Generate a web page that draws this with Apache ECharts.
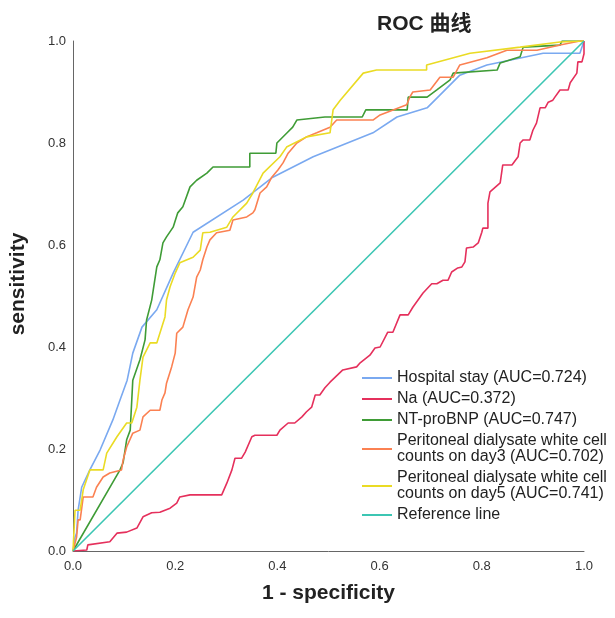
<!DOCTYPE html>
<html>
<head>
<meta charset="utf-8">
<title>ROC 曲线</title>
<script src="https://cdn.jsdelivr.net/npm/echarts@6/dist/echarts.min.js"></script>
<style>
  html, body { margin: 0; padding: 0; background: #fff; }
  #chart { width: 615px; height: 618px; }
</style>
</head>
<body>
<div id="chart"></div>
<script>
// ROC points, [1 - specificity, sensitivity]
const hospitalStay = [[0,0],[0.004,0.027],[0.007,0.035],[0.01,0.08],[0.017,0.125],[0.033,0.159],[0.053,0.198],[0.078,0.257],[0.092,0.296],[0.106,0.335],[0.117,0.388],[0.135,0.439],[0.164,0.473],[0.196,0.545],[0.235,0.625],[0.333,0.688],[0.391,0.733],[0.47,0.773],[0.587,0.82],[0.634,0.851],[0.693,0.869],[0.718,0.894],[0.757,0.933],[0.81,0.953],[0.92,0.976],[0.992,0.976],[1,1]]
const sodium = [[0,0],[0.027,0.002],[0.029,0.012],[0.072,0.018],[0.086,0.035],[0.105,0.037],[0.125,0.045],[0.137,0.067],[0.154,0.075],[0.17,0.076],[0.19,0.084],[0.203,0.094],[0.209,0.106],[0.229,0.11],[0.291,0.11],[0.301,0.133],[0.311,0.159],[0.317,0.182],[0.33,0.182],[0.337,0.194],[0.35,0.224],[0.356,0.227],[0.399,0.227],[0.405,0.237],[0.421,0.251],[0.434,0.251],[0.448,0.263],[0.457,0.273],[0.467,0.282],[0.474,0.306],[0.483,0.306],[0.493,0.32],[0.503,0.331],[0.528,0.355],[0.555,0.361],[0.562,0.369],[0.581,0.384],[0.591,0.398],[0.601,0.4],[0.616,0.429],[0.626,0.429],[0.64,0.463],[0.656,0.463],[0.665,0.478],[0.685,0.506],[0.702,0.524],[0.712,0.524],[0.724,0.531],[0.734,0.531],[0.741,0.547],[0.753,0.555],[0.761,0.557],[0.767,0.567],[0.77,0.594],[0.783,0.596],[0.793,0.604],[0.8,0.625],[0.802,0.633],[0.812,0.633],[0.812,0.682],[0.816,0.704],[0.836,0.722],[0.841,0.757],[0.859,0.757],[0.871,0.773],[0.875,0.8],[0.881,0.806],[0.894,0.806],[0.9,0.825],[0.907,0.839],[0.914,0.869],[0.924,0.869],[0.93,0.88],[0.939,0.884],[0.943,0.89],[0.953,0.904],[0.969,0.904],[0.973,0.918],[0.986,0.937],[0.988,0.959],[0.996,0.959],[1,0.975],[1,1]]
const ntProBNP = [[0,0],[0.092,0.159],[0.098,0.173],[0.105,0.218],[0.112,0.237],[0.117,0.335],[0.131,0.375],[0.141,0.414],[0.144,0.453],[0.154,0.492],[0.164,0.557],[0.17,0.571],[0.176,0.604],[0.183,0.616],[0.196,0.635],[0.205,0.663],[0.215,0.675],[0.229,0.714],[0.242,0.727],[0.262,0.741],[0.274,0.753],[0.346,0.753],[0.346,0.78],[0.397,0.78],[0.399,0.8],[0.419,0.82],[0.43,0.831],[0.438,0.845],[0.493,0.851],[0.566,0.851],[0.573,0.865],[0.654,0.865],[0.656,0.89],[0.693,0.89],[0.712,0.904],[0.738,0.924],[0.744,0.937],[0.83,0.943],[0.836,0.957],[0.875,0.969],[0.881,0.988],[0.953,0.992],[0.957,1],[1,1]]
const wbcDay3 = [[0,0],[0.007,0.027],[0.01,0.061],[0.014,0.061],[0.02,0.106],[0.039,0.106],[0.046,0.125],[0.059,0.145],[0.072,0.153],[0.095,0.159],[0.098,0.178],[0.105,0.204],[0.117,0.231],[0.131,0.237],[0.137,0.263],[0.151,0.276],[0.17,0.276],[0.174,0.296],[0.18,0.31],[0.183,0.329],[0.193,0.361],[0.2,0.388],[0.203,0.427],[0.215,0.439],[0.225,0.473],[0.235,0.498],[0.242,0.537],[0.249,0.551],[0.254,0.571],[0.262,0.596],[0.268,0.61],[0.281,0.624],[0.307,0.629],[0.313,0.649],[0.34,0.655],[0.352,0.663],[0.356,0.669],[0.366,0.702],[0.379,0.714],[0.389,0.733],[0.401,0.747],[0.411,0.761],[0.421,0.78],[0.438,0.8],[0.457,0.812],[0.477,0.82],[0.503,0.831],[0.516,0.845],[0.587,0.845],[0.601,0.855],[0.653,0.875],[0.659,0.89],[0.665,0.9],[0.699,0.904],[0.718,0.929],[0.744,0.929],[0.757,0.953],[0.81,0.967],[0.849,0.982],[0.908,0.982],[0.953,0.992],[0.992,1],[1,1]]
const wbcDay5 = [[0,0],[0.004,0.08],[0.014,0.08],[0.02,0.12],[0.033,0.159],[0.059,0.159],[0.066,0.192],[0.086,0.224],[0.105,0.251],[0.115,0.251],[0.125,0.282],[0.131,0.335],[0.137,0.38],[0.151,0.408],[0.164,0.408],[0.18,0.459],[0.183,0.492],[0.19,0.518],[0.2,0.545],[0.209,0.565],[0.235,0.576],[0.249,0.59],[0.254,0.624],[0.268,0.625],[0.301,0.635],[0.313,0.655],[0.34,0.682],[0.352,0.702],[0.372,0.741],[0.405,0.773],[0.418,0.792],[0.457,0.812],[0.503,0.82],[0.509,0.865],[0.523,0.884],[0.568,0.937],[0.594,0.943],[0.692,0.943],[0.692,0.953],[0.777,0.976],[0.875,0.988],[0.953,0.998],[1,1]]
const referenceLine = [[0,0],[1,1]]

const seriesNames = [
  'Hospital stay (AUC=0.724)',
  'Na (AUC=0.372)',
  'NT-proBNP (AUC=0.747)',
  'Peritoneal dialysate white cell counts on day3 (AUC=0.702)',
  'Peritoneal dialysate white cell counts on day5 (AUC=0.741)',
  'Reference line'
]
const seriesData = [hospitalStay, sodium, ntProBNP, wbcDay3, wbcDay5, referenceLine]
const colors = ['#7aa9f0', '#e5305c', '#3f9c36', '#fb8152', '#eadb24', '#3cc6b3']
const axisTicks = [0, 0.2, 0.4, 0.6, 0.8, 1.0]

const font = '"Liberation Sans", Arial, "Noto Sans CJK SC", sans-serif'

let chart = echarts.init(document.getElementById('chart'))

let axisBase = {
  type: 'value',
  min: axisTicks[0],
  max: axisTicks[axisTicks.length - 1],
  interval: 0.2,
  axisLine: {show: true, lineStyle: {color: '#666', width: 1}},
  axisTick: {show: false},
  splitLine: {show: false},
  axisLabel: {
    color: '#333',
    fontSize: 13,
    fontFamily: font,
    formatter: v => v.toFixed(1)
  },
  nameLocation: 'middle',
  nameTextStyle: {fontSize: 21, fontWeight: 'bold', color: '#222', fontFamily: font}
}

chart.setOption({
  animation: false,
  color: colors,
  title: {
    text: 'ROC 曲线',
    left: 377,
    top: 14,
    padding: 0,
    textStyle: {fontSize: 21, fontWeight: 'bold', color: '#222', fontFamily: font}
  },
  grid: {left: 73, right: 31, top: 41, bottom: 67},
  xAxis: Object.assign({}, axisBase, {
    name: '1 - specificity',
    nameGap: 32,
    axisLabel: Object.assign({}, axisBase.axisLabel, {margin: 9})
  }),
  yAxis: Object.assign({}, axisBase, {
    name: 'sensitivity',
    nameGap: 44,
    nameTextStyle: Object.assign({}, axisBase.nameTextStyle, {padding: [0, 0, 0, 24]}),
    axisLabel: Object.assign({}, axisBase.axisLabel, {margin: 7})
  }),
  legend: {
    orient: 'vertical',
    left: 362,
    top: 370,
    padding: 0,
    icon: 'rect',
    itemWidth: 30,
    itemHeight: 2,
    itemGap: 5,
    data: seriesNames,
    formatter: name => name.replace(' cell counts', ' cell\ncounts'),
    textStyle: {fontSize: 16, lineHeight: 16, color: '#222', fontFamily: font}
  },
  series: seriesNames.map((name, i) => ({
    name: name,
    type: 'line',
    data: seriesData[i],
    symbol: 'none',
    lineStyle: {width: 1.6, color: colors[i]},
    itemStyle: {color: colors[i]}
  }))
})
</script>
</body>
</html>
